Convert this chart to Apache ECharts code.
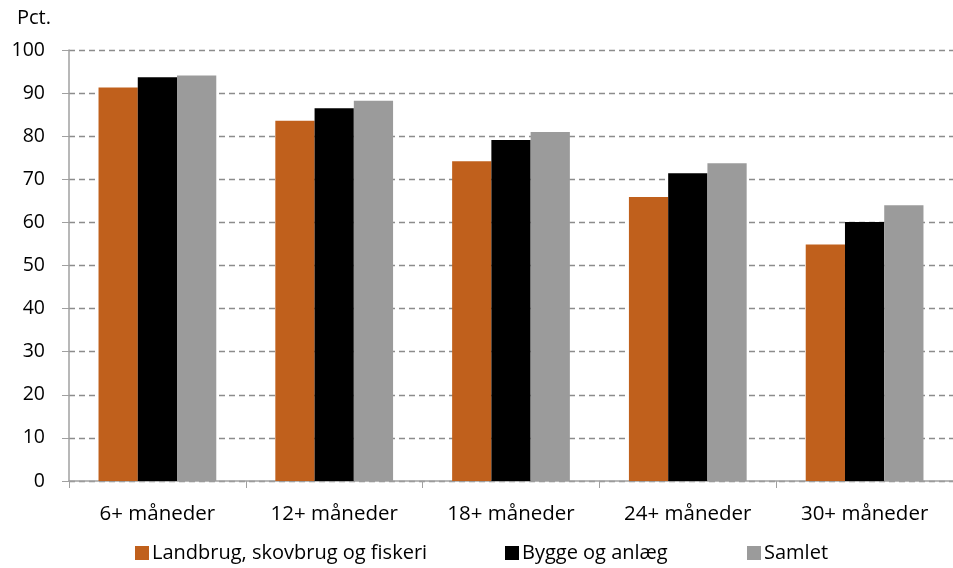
<!DOCTYPE html>
<html>
<head>
<meta charset="utf-8">
<script src="https://cdn.jsdelivr.net/npm/echarts@6/dist/echarts.min.js"></script>
<style>html,body{margin:0;padding:0;background:#fff}#c{width:953px;height:568px}</style>
</head>
<body>
<div id="c"></div>
<script>
const categories = ['6+ måneder', '12+ måneder', '18+ måneder', '24+ måneder', '30+ måneder'];
const seriesNames = ['Landbrug, skovbrug og fiskeri', 'Bygge og anlæg', 'Samlet'];
const landbrug = [91.3, 83.6, 74.2, 65.9, 54.9];
const bygge = [93.7, 86.5, 79.1, 71.4, 60.1];
const samlet = [94.1, 88.2, 81.0, 73.7, 64.0];
const yTicks = { min: 0, max: 100, interval: 10 };

const FONT = 'Open Sans';
const legendLefts = [135, 505, 747];
const legends = seriesNames.map((n, i) => ({
  left: legendLefts[i], top: 543, padding: 0, itemGap: 0, itemWidth: 14, itemHeight: 14, icon: 'rect',
  textStyle: { fontFamily: FONT, fontSize: 20, color: '#000', padding: [0, 0, 0, -2] },
  data: [n]
}));
const chart = echarts.init(document.getElementById('c'), null, { renderer: 'canvas' });
chart.setOption({
  animation: false,
  textStyle: { fontFamily: FONT },
  grid: { left: 69, top: 50, width: 894, height: 431, containLabel: false },
  graphic: [{
    type: 'text', left: 17, top: 8,
    style: { text: 'Pct.', font: '20px "Open Sans"', fill: '#000' }
  }],
  legend: legends,
  xAxis: {
    type: 'category', data: categories,
    axisLine: { lineStyle: { color: '#a0a0a0', width: 1.5 } },
    axisTick: { show: true, length: 7, lineStyle: { color: '#a0a0a0' } },
    axisLabel: { margin: 23, fontFamily: FONT, fontSize: 20.5, color: '#000' }
  },
  yAxis: {
    type: 'value', min: yTicks.min, max: yTicks.max, interval: yTicks.interval,
    axisLine: { show: true, lineStyle: { color: '#a0a0a0', width: 1.5 } },
    axisTick: { show: true, inside: false, length: 7, lineStyle: { color: '#a0a0a0' } },
    axisLabel: { margin: 24, fontFamily: FONT, fontSize: 19.5, color: '#000' },
    splitLine: { show: true, lineStyle: { color: '#8c8c8c', type: [6, 4], width: 1.3 } }
  },
  series: [
    { name: seriesNames[0], type: 'bar', data: landbrug, itemStyle: { color: '#C0601C' }, barGap: '0%', barCategoryGap: '33.4%' },
    { name: seriesNames[1], type: 'bar', data: bygge, itemStyle: { color: '#000000' }, barGap: '0%', barCategoryGap: '33.4%' },
    { name: seriesNames[2], type: 'bar', data: samlet, itemStyle: { color: '#9B9B9B' }, barGap: '0%', barCategoryGap: '33.4%' }
  ]
});
</script>
</body>
</html>
